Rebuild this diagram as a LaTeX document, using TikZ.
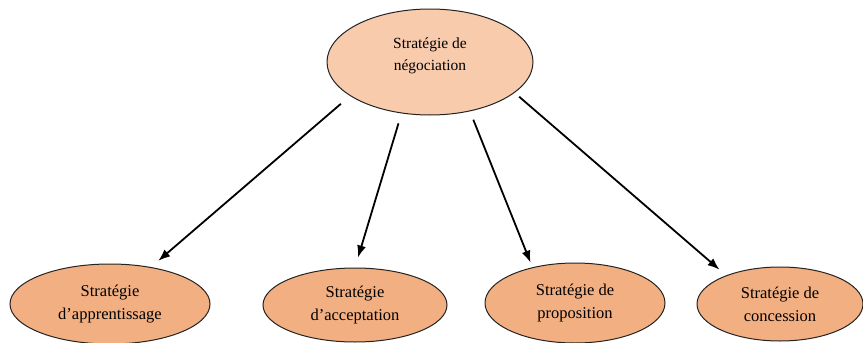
\documentclass[tikz,border=0pt]{standalone}
\usepackage{fontspec}
\setmainfont{Liberation Serif}
\usetikzlibrary{shapes.geometric,arrows.meta}

\definecolor{rootfill}{RGB}{248,203,173}
\definecolor{leaffill}{RGB}{242,175,130}
\definecolor{edgecolor}{RGB}{35,35,35}

\begin{document}
\begin{tikzpicture}[x=1pt,y=-1pt,
  strat/.style={ellipse,draw=edgecolor,line width=1pt,inner sep=0pt,align=center},
  root/.style={strat,fill=rootfill,text depth=16pt,font=\fontsize{15.5}{22}\selectfont},
  leaf/.style={strat,fill=leaffill,font=\fontsize{16.5}{23}\selectfont},
  arr/.style={-{Latex[length=12pt,width=9pt]},line width=1.8pt}]
\useasboundingbox (0,0) rectangle (863,343);
\clip (0,0) rectangle (863,343);
% root
\node[root,minimum width=206pt,minimum height=106pt] (neg) at (430,62) {Stratégie de\\négociation};
% leaves
\node[leaf,minimum width=200pt,minimum height=80pt] (app) at (110,304) {Stratégie\\d’apprentissage};
\node[leaf,minimum width=184pt,minimum height=74pt] (acc) at (355,305) {Stratégie\\d’acceptation};
\node[leaf,minimum width=180pt,minimum height=80pt] (pro) at (575,303) {Stratégie de\\proposition};
\node[leaf,minimum width=166pt,minimum height=74pt] (con) at (780,304) {Stratégie de\\concession};
% arrows
\draw[arr,shorten <=12pt,shorten >=9.5pt] (neg.203) -- (app.42);
\draw[arr,shorten <=10.4pt,shorten >=10.5pt] (neg.241.2) -- (acc.90);
\draw[arr,shorten <=9pt,shorten >=5pt] (neg.309.9) -- (pro.140);
\draw[arr,shorten <=6pt,shorten >=8.7pt] (neg.340.4) -- (con.152.1);
\end{tikzpicture}
\end{document}
